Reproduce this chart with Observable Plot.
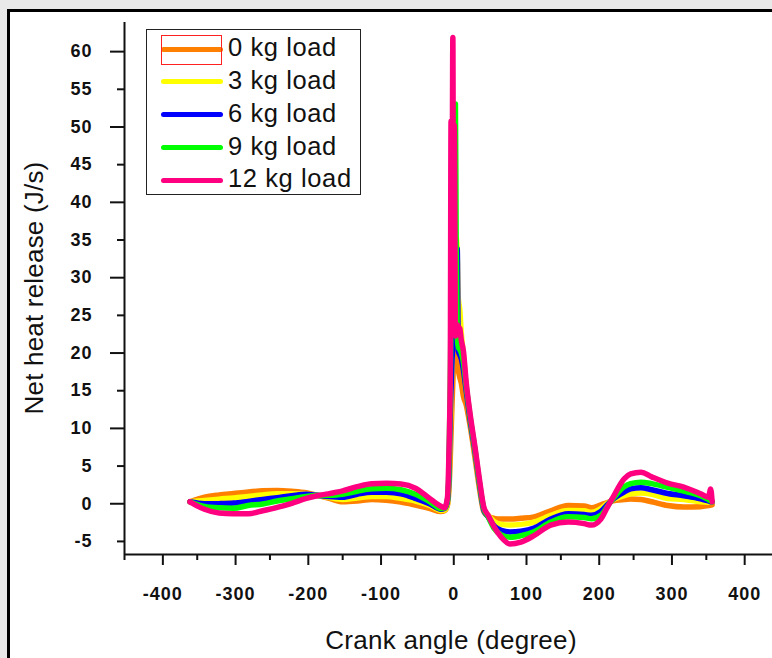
<!DOCTYPE html>
<html><head><meta charset="utf-8">
<script src="https://cdn.jsdelivr.net/npm/d3@7"></script>
<script src="https://cdn.jsdelivr.net/npm/@observablehq/plot@0.6"></script>
<style>
html,body{margin:0;padding:0;background:#e9e9e9;overflow:hidden;}
#wrap{position:relative;width:772px;height:658px;overflow:hidden;}
#frame{position:absolute;left:7px;top:9px;width:820px;height:720px;border:3px solid #000;background:#fff;}
#chart{position:absolute;left:0;top:0;}
.t{position:absolute;font-family:"Liberation Sans",Arial,sans-serif;color:#111;white-space:nowrap;}
#ytitle{left:34px;top:288px;font-size:26px;line-height:26px;letter-spacing:0.2px;transform:translate(-50%,-50%) rotate(-90deg);}
#xtitle{left:451px;top:627px;font-size:26px;line-height:26px;letter-spacing:0.3px;transform:translateX(-50%);}
#legbox{position:absolute;left:146px;top:29px;width:213px;height:164px;border:1.5px solid #222;background:#fff;}
.sample{position:absolute;height:5px;border-radius:2.5px;}
.ltext{font-size:25.5px;line-height:25.5px;letter-spacing:0.6px;}
#redbox{position:absolute;left:161px;top:35px;width:59px;height:28px;border:1px solid #ff2020;}
</style></head>
<body><div id="wrap"><div id="frame"></div><div id="chart"></div><div id="legbox"></div><div id="legend"></div>
<div class="t" id="ytitle">Net heat release (J/s)</div>
<div class="t" id="xtitle">Crank angle (degree)</div></div>
<script>
// Crank angle (degree)
const angle = [-360,-340,-320,-300,-280,-260,-240,-220,-200,-185,-170,-150,-130,-110,-90,-70,-50,-30,-15,-10,-6,-4,-2,-1,0,1.5,2.5,3.5,5,6,7.5,9,11,13,16,20,25,32,38,44,50,58,68,80,95,113,136,160,182,192,205,214,220,237,246,260,275,297,319,342,353,356,358];
// Net heat release (J/s) per load
const load0 = [0,0.6,0.9,1.1,1.3,1.45,1.5,1.4,1.2,0.85,0.5,0,0.1,0.3,0.2,-0.05,-0.45,-0.9,-1.3,-1.2,-0.5,1.5,6,9,12,16,19,21,22,21,19,17.5,16.5,15.8,14,12.8,10.2,5.8,1.8,-1.3,-1.9,-2.2,-2.3,-2.3,-2.2,-2.0,-1.2,-0.5,-0.55,-0.8,-0.4,-0.1,0.1,0.3,0.35,0.3,0,-0.5,-0.7,-0.65,-0.5,-0.45,-0.4];
const load3 = [0,0.17,0.35,0.5,0.7,0.9,1.05,1.05,1,0.85,0.6,0.3,0.5,0.7,0.7,0.45,0.1,-0.5,-1.15,-1.1,-0.3,2.5,10,14,18,22,26,29,32,35,33,27,25.5,22.5,19.5,15,11.2,6.6,2.4,-1.1,-1.8,-2.6,-3,-3.1,-3,-2.7,-1.8,-1.15,-1.2,-1.4,-0.9,-0.2,0.2,0.8,1.05,1.15,1,0.44,0.3,0,-0.05,0,0];
const load6 = [0,-0.27,-0.25,-0.18,0.05,0.3,0.55,0.8,1,0.85,0.7,0.6,1,1.27,1.25,1.05,0.45,-0.3,-1,-0.9,0,3,12,15,18,21,23,25,28,31,33.6,20,19.5,19,17.5,14.6,11,6.6,2.4,-1.1,-2,-3.2,-3.8,-4,-3.9,-3.5,-2.3,-1.6,-1.7,-1.8,-1.3,-0.4,0.2,1.3,1.7,1.86,1.6,1.1,0.8,0.4,0.1,0,0];
const load9 = [0,-0.62,-0.8,-0.85,-0.5,-0.3,0.1,0.4,0.7,0.82,0.85,1,1.4,1.72,1.8,1.6,1,0,-0.9,-0.85,0.2,4,16,25,32,40,45,50,52.8,35,22,20.5,20.2,19.8,18.5,15.2,11.4,6.9,2.6,-0.9,-2,-3.5,-4.4,-4.7,-4.5,-4.0,-2.7,-2,-2.1,-2.26,-1.8,-0.6,0.2,2,2.4,2.6,2.4,1.9,1.4,0.8,0.3,0.1,0];
const load12 = [0,-1,-1.5,-1.6,-1.6,-1.2,-0.75,-0.2,0.45,0.8,1.05,1.45,2,2.4,2.45,2.35,1.8,0.4,-0.6,-0.8,0.5,6,18,50.5,24,61.6,23,50,22,23,23.5,23.2,23,21.5,20,15.7,11.8,7.2,3,-0.7,-1.8,-3.3,-4.7,-5.6,-5.35,-4.5,-3.1,-2.7,-2.9,-3.1,-2.3,-0.7,0.3,3.05,3.7,3.93,3.3,2.47,1.94,1.06,0.6,1.7,0];

const seriesNames = ["0 kg load","3 kg load","6 kg load","9 kg load","12 kg load"];
const seriesColors = ["#ff8000","#ffff00","#0000ff","#00ff00","#ff0080"];
const yTicks = [-5,0,5,10,15,20,25,30,35,40,45,50,55,60];
const xTicks = [-400,-300,-200,-100,0,100,200,300,400];
const xMinorTicks = [-450,-350,-250,-150,-50,50,150,250,350];

const seriesValues = [load0, load3, load6, load9, load12];
const rows = seriesNames.flatMap((name, i) => angle.map((a, j) => ({angle: a, value: seriesValues[i][j], load: name})));

const fmt = d => String(d);
const axisStyle = {fontSize: 18, fontWeight: "bold", color: "#111", strokeWidth: 2, label: null, tickFormat: fmt};

const chart = Plot.plot({
  width: 772, height: 658,
  marginLeft: 124, marginRight: 0, marginTop: 22, marginBottom: 104,
  style: {fontFamily: "'Liberation Sans', Arial, sans-serif", background: "transparent", letterSpacing: "1px", fontSize: "18px", overflow: "visible"},
  x: {domain: [-450, 441]},
  y: {domain: [-7, 63.6]},
  color: {domain: seriesNames, range: seriesColors},
  marks: [
    Plot.line(rows, {x: "angle", y: "value", z: "load", stroke: "load", strokeWidth: 5.5, curve: "monotone-x", strokeLinejoin: "round", strokeLinecap: "round"}),
    Plot.axisY(yTicks.filter(v => v % 10 === 0), {...axisStyle, tickSize: 14, tickPadding: 18, dy: 2}),
    Plot.axisY(yTicks.filter(v => v % 10 !== 0), {...axisStyle, tickSize: 7, tickPadding: 25, dy: 2}),
    Plot.axisX(xTicks, {...axisStyle, tickSize: 11, tickPadding: 22, dx: 2}),
    Plot.axisX(xMinorTicks, {...axisStyle, tickSize: 6, tickFormat: () => ""}),
    Plot.ruleX([-450], {stroke: "#111", strokeWidth: 2}),
    Plot.ruleY([-7], {stroke: "#111", strokeWidth: 2})
  ]
});
document.getElementById("chart").appendChild(chart);

// legend
const leg = document.getElementById("legend");
seriesNames.forEach((name, i) => {
  const cy = 49 + 32.75 * i;
  const s = document.createElement("div");
  s.className = "sample";
  s.style.left = "160.5px"; s.style.width = "62px";
  s.style.top = (cy - 2.5) + "px";
  s.style.background = seriesColors[i];
  leg.appendChild(s);
  const t = document.createElement("div");
  t.className = "t ltext";
  t.style.left = "228px";
  t.style.top = (cy + 8 - 21.6) + "px";
  t.textContent = name;
  leg.appendChild(t);
});
const rb = document.createElement("div"); rb.id = "redbox"; leg.appendChild(rb);
</script></body></html>
